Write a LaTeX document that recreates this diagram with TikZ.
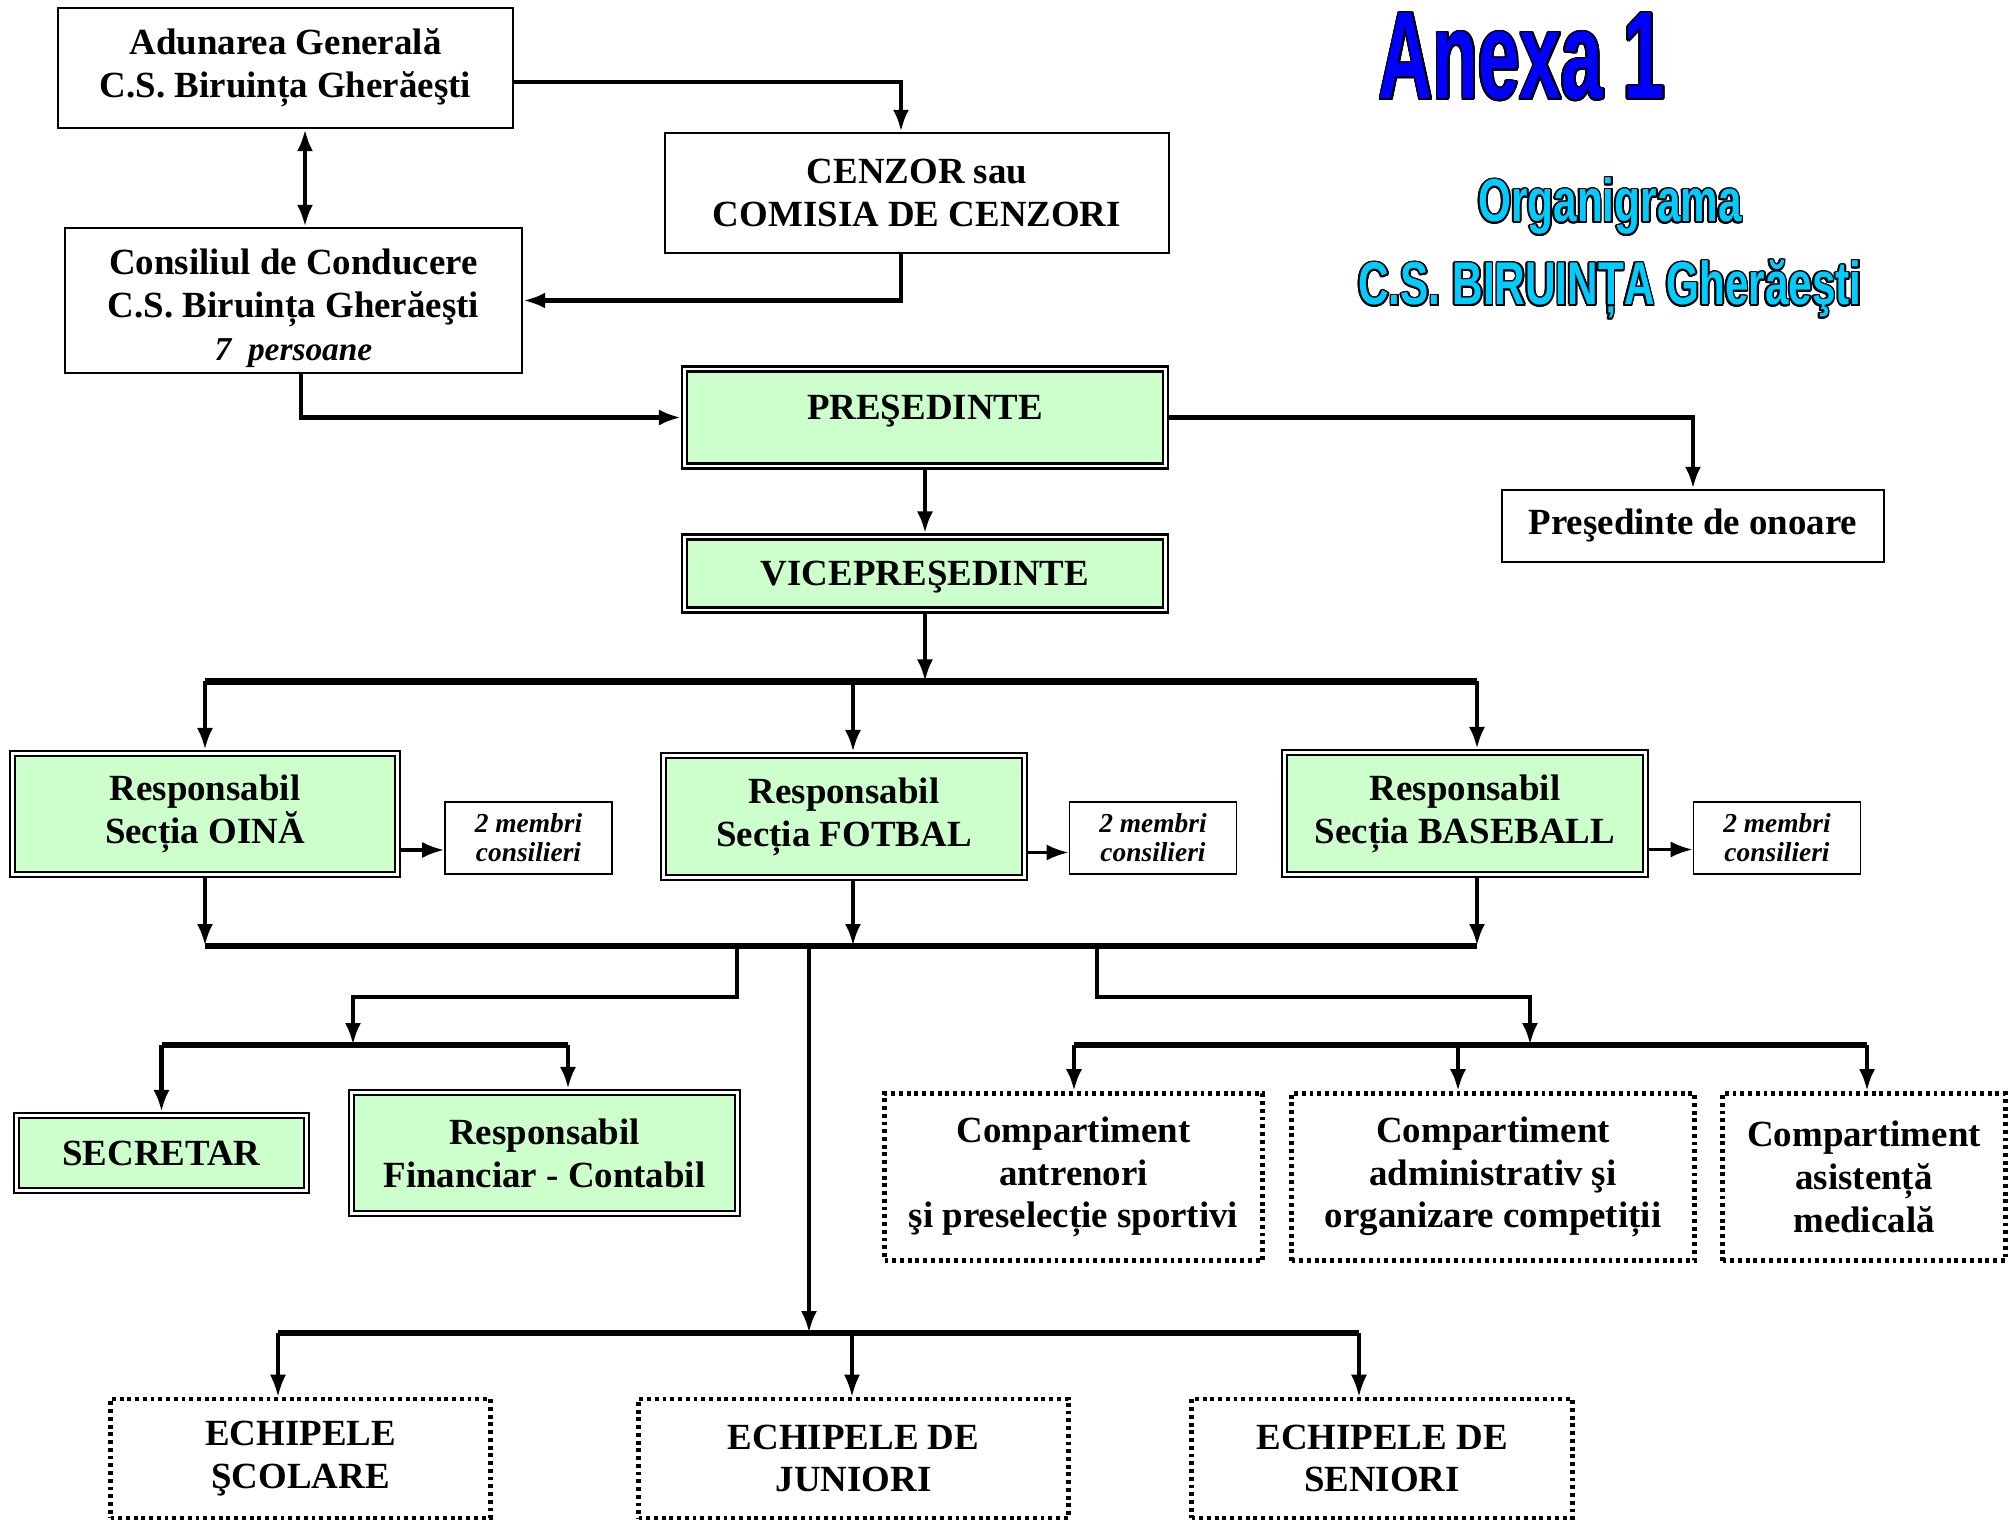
\documentclass[tikz,border=0pt]{standalone}
\usepackage{fontspec}
\usepackage{xcolor}
\usepackage{contour}
\usepackage{tikz}
\usetikzlibrary{arrows.meta}
\setmainfont{Liberation Serif}
\newfontfamily\anexafont[FakeStretch=0.6]{Liberation Sans}
\newfontfamily\titlufont[FakeStretch=0.7]{Liberation Sans}
\definecolor{verdepal}{HTML}{CCFFCC}
\definecolor{albastru}{HTML}{0000FF}
\definecolor{azur}{HTML}{00CCFF}
\contourlength{0.5pt}
\tikzset{
	caseta/.style={draw, line width=0.7pt, align=center, inner sep=0pt, font=\fontsize{10.5}{12.2}\selectfont\bfseries},
	verde/.style={caseta, fill=verdepal, double=white, double distance=0.6pt, outer sep=1pt},
	punctat/.style={caseta, line width=1.3pt, dash pattern=on 1.1pt off 1.1pt},
	membri/.style={draw, line width=0.5pt, align=center, inner sep=0pt, minimum width=1.67cm, minimum height=0.72cm, font=\fontsize{7.8}{8.2}\selectfont\bfseries\itshape},
	legatura/.style={line width=1.3pt},
	bara/.style={line width=1.8pt}
}

\begin{document}
\begin{tikzpicture}[y=-1cm, >={Latex[length=2.2mm,width=1.6mm]}]
	\path[use as bounding box, fill=white] (0,0) rectangle (20.09,15.22);
	\node[anchor=base] (anexa) at (15.22,0.99) {\anexafont\bfseries\fontsize{35.4}{40}\selectfont\color{albastru}\contour{black}{Anexa 1}};
	\node[anchor=base] (organigrama) at (16.10,2.22) {\titlufont\bfseries\fontsize{17.2}{20}\selectfont\color{azur}\contour{black}{Organigrama}};
	\node[anchor=base] (club) at (16.10,3.05) {\titlufont\bfseries\fontsize{17.2}{20}\selectfont\color{azur}\contour{black}{C.S. BIRUINȚA Gherăeşti}};

	\node[caseta, minimum width=4.55cm, minimum height=1.2cm] (adunare) at (2.855,0.68) {Adunarea Generală\\C.S. Biruința Gherăeşti};
	\node[caseta, minimum width=5.04cm, minimum height=1.2cm] (cenzor) at (9.17,1.93) {CENZOR sau\\COMISIA DE CENZORI};
	\node[caseta, minimum width=4.57cm, minimum height=1.45cm] (consiliu) at (2.935,3.005) {\rule{0pt}{11.7pt}Consiliul de Conducere\\C.S. Biruința Gherăeşti\\{\itshape\fontsize{9.5}{11}\selectfont 7\ \ persoane}};
	\node[verde, minimum width=4.81cm, minimum height=0.97cm, text depth=0.21cm] (presedinte) at (9.25,4.175) {PREŞEDINTE};
	\node[verde, minimum width=4.81cm, minimum height=0.73cm, text depth=0pt] (vice) at (9.25,5.735) {VICEPREŞEDINTE};
	\node[caseta, minimum width=3.82cm, minimum height=0.72cm] (onoare) at (16.93,5.26) {Preşedinte de onoare};

	\node[verde, minimum width=3.85cm, minimum height=1.21cm] (oina) at (2.05,8.14) {Responsabil\\Secția OINĂ};
	\node[verde, minimum width=3.61cm, minimum height=1.22cm] (fotbal) at (8.44,8.165) {Responsabil\\Secția FOTBAL};
	\node[verde, minimum width=3.61cm, minimum height=1.22cm] (baseball) at (14.65,8.135) {Responsabil\\Secția BASEBALL};
	\node[membri] (membri1) at (5.285,8.38) {2 membri\\consilieri};
	\node[membri] (membri2) at (11.53,8.38) {2 membri\\consilieri};
	\node[membri] (membri3) at (17.77,8.38) {2 membri\\consilieri};

	\node[verde, minimum width=2.9cm, minimum height=0.75cm] (secretar) at (1.615,11.53) {SECRETAR};
	\node[verde, minimum width=3.86cm, minimum height=1.21cm] (financiar) at (5.445,11.53) {Responsabil\\Financiar - Contabil};
	\node[punctat, minimum width=3.78cm, minimum height=1.67cm] (antrenori) at (10.735,11.77) {Compartiment\\antrenori\\şi preselecție sportivi};
	\node[punctat, minimum width=4.03cm, minimum height=1.67cm] (administrativ) at (14.93,11.77) {Compartiment\\administrativ şi\\organizare competiții};
	\node[punctat, minimum width=2.83cm, minimum height=1.67cm] (medical) at (18.64,11.77) {Compartiment\\asistență\\medicală};
	\node[punctat, minimum width=3.8cm, minimum height=1.19cm] (scolare) at (3.005,14.585) {ECHIPELE\\ŞCOLARE};
	\node[punctat, minimum width=4.3cm, minimum height=1.19cm] (juniori) at (8.535,14.585) {ECHIPELE DE\\JUNIORI};
	\node[punctat, minimum width=3.81cm, minimum height=1.19cm] (seniori) at (13.82,14.585) {ECHIPELE DE\\SENIORI};

	\coordinate (ac) at ([xshift=0.195cm]adunare.south);
	\coordinate (cz) at ([xshift=-0.16cm]cenzor.south);
	\coordinate (cp) at ([xshift=0.075cm]consiliu.south);
	\draw[legatura,->] ([yshift=-0.14cm]adunare.east) -| (cz |- cenzor.north);
	\draw[legatura,<->] (ac) -- (ac |- consiliu.north);
	\draw[legatura,->] (cz) |- (consiliu.east);
	\draw[legatura,->] (cp) |- (presedinte.west);
	\draw[legatura,->] (presedinte.east) -| (onoare.north);
	\draw[legatura,->] (presedinte) -- (vice);

	\coordinate (s1) at (2.05,6.815);
	\coordinate (s2) at (8.53,6.815);
	\coordinate (s3) at (14.77,6.815);
	\draw[bara] (s1) -- (s3);
	\draw[legatura,->] (vice) -- (vice |- s1);
	\foreach \sc/\nd in {s1/oina,s2/fotbal,s3/baseball}
		\draw[legatura,->] (\sc) -- (\sc |- \nd.north);
	\foreach \nd/\mb in {oina/membri1,fotbal/membri2,baseball/membri3}{
		\coordinate (p) at ([yshift=-0.36cm]\nd.east);
		\draw[line width=0.9pt,->] (p) -- (p -| \mb.west);
	}

	\coordinate (t1) at (2.05,9.46);
	\coordinate (t2) at (8.53,9.46);
	\coordinate (t3) at (14.77,9.46);
	\draw[bara] (t1) -- (t3);
	\foreach \sc/\nd in {t1/oina,t2/fotbal,t3/baseball}
		\draw[legatura,->] (\sc |- \nd.south) -- (\sc);

	\coordinate (ls) at (7.37,9.46);
	\coordinate (lt) at (3.53,10.45);
	\draw[legatura,->] (ls) -- ++(0,0.51) -| (lt);
	\coordinate (f1) at (1.615,10.45);
	\coordinate (f2) at (5.68,10.45);
	\draw[bara] (f1) -- (f2);
	\draw[legatura,->] (f1) -- (f1 |- secretar.north);
	\draw[legatura,->] (f2) -- (f2 |- financiar.north);

	\coordinate (rs) at (10.97,9.46);
	\coordinate (rt) at (15.30,10.45);
	\draw[legatura,->] (rs) -- ++(0,0.51) -| (rt);
	\coordinate (g1) at (10.74,10.45);
	\coordinate (g2) at (14.58,10.45);
	\coordinate (g3) at (18.67,10.45);
	\draw[bara] (g1) -- (g3);
	\foreach \sc/\nd in {g1/antrenori,g2/administrativ,g3/medical}
		\draw[legatura,->] (\sc) -- (\sc |- \nd.north);

	\coordinate (cs) at (8.09,9.46);
	\coordinate (ct) at (8.09,13.33);
	\draw[legatura,->] (cs) -- (ct);
	\coordinate (e1) at (2.78,13.33);
	\coordinate (e2) at (8.52,13.33);
	\coordinate (e3) at (13.59,13.33);
	\draw[bara] (e1) -- (e3);
	\foreach \sc/\nd in {e1/scolare,e2/juniori,e3/seniori}
		\draw[line width=0.9pt,->] (\sc) -- (\sc |- \nd.north);
\end{tikzpicture}
\end{document}
